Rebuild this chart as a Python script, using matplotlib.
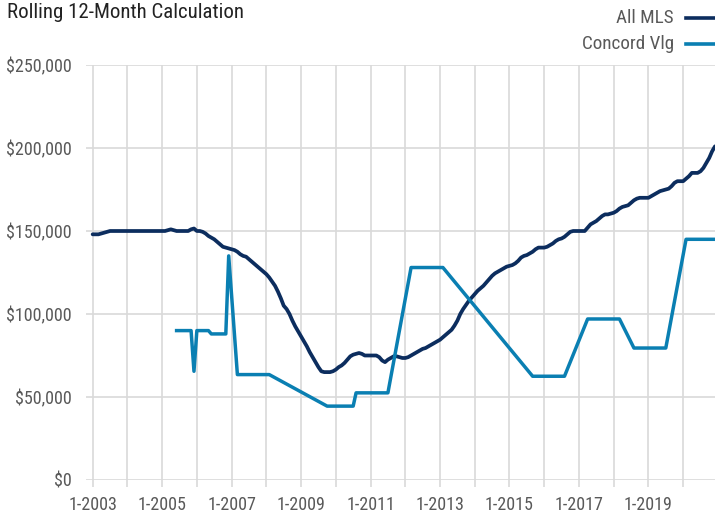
import numpy as np
import matplotlib
matplotlib.use('Agg')
import matplotlib.pyplot as plt
from matplotlib.lines import Line2D
from matplotlib.ticker import FuncFormatter
from matplotlib import font_manager

# condensed look if available, else Roboto
names = set(f.name for f in font_manager.fontManager.ttflist)
fam = [n for n in ['Roboto Condensed', 'Liberation Sans Narrow', 'Roboto'] if n in names]
plt.rcParams['font.family'] = fam + ['DejaVu Sans']

# monthly rolling 12-month values, All MLS, Jan 2003 .. Dec 2020 (in $1000)
all_mls = [
    148, 148, 148, 148.5, 149, 149.5, 150, 150, 150, 150, 150, 150,            # 2003
    150, 150, 150, 150, 150, 150, 150, 150, 150, 150, 150, 150,                # 2004
    150, 150, 150.5, 151, 150.5, 150, 150, 150, 150, 150, 151, 151.5,          # 2005
    150, 150, 149.5, 148.5, 147, 146, 145, 143.5, 142, 140.5, 140, 139.5,      # 2006
    139, 138.5, 137.5, 136, 135, 134.5, 133, 131.5, 130, 128.5, 127, 125.5,    # 2007
    124, 122, 119.5, 117, 113.5, 109.5, 105, 103, 100, 96, 92.5, 89.5,         # 2008
    86.5, 83.5, 80.5, 77, 74, 71, 68, 65.5, 65, 65, 65, 65.5,                  # 2009
    66.5, 68, 69, 70.5, 72.5, 74.5, 75.5, 76, 76.5, 76, 75, 75,                # 2010
    75, 75, 75, 74, 72, 71, 72.5, 73.5, 74.5, 74.5, 74, 73.5,                  # 2011
    73.5, 74, 75, 76, 77, 78, 79, 79.5, 80.5, 81.5, 82.5, 83.5,                # 2012
    84.5, 86, 87.5, 89, 90.5, 93, 96, 100, 103, 105.5, 108, 110,               # 2013
    112, 114, 115.5, 117, 119, 121, 123, 124.5, 125.5, 126.5, 127.5, 128.5,    # 2014
    129, 129.5, 130.5, 132, 134, 135, 135.5, 136.5, 137.5, 139, 140, 140,      # 2015
    140, 140.5, 141.5, 142.5, 144, 145, 145.5, 146.5, 148, 149.5, 150, 150,    # 2016
    150, 150, 150, 152, 154, 155, 156, 157.5, 159, 160, 160, 160.5,            # 2017
    161, 162, 163.5, 164.5, 165, 165.5, 167, 168.5, 169.5, 170, 170, 170,      # 2018
    170, 171, 172, 173, 174, 174.5, 175, 175.5, 177, 179, 180, 180,            # 2019
    180, 181.5, 183, 185, 185, 185, 186, 188, 191, 194, 198, 201,              # 2020
]

# Concord Vlg: sparse months (index from Jan 2003) and values (in $1000)
concord_month = [29, 34, 35, 36, 40, 41, 46, 47, 50, 61, 81, 90, 91, 102,
                 110, 121, 152, 163, 171, 182, 187, 198, 205, 215]
concord_val = [90, 90, 65.5, 90, 90, 88, 88, 135, 63.5, 63.5, 44.5, 44.5, 52.5, 52.5,
               128, 128, 62.5, 62.5, 97, 97, 79.5, 79.5, 145, 145]

years = list(range(2003, 2021))
tick_labels = ['1-%d' % y if (y - 2003) % 2 == 0 else '' for y in years]

navy = '#0c2d5e'
teal = '#0a7fb2'
grid_c = '#d9d9d9'
label_c = '#595959'

fig = plt.figure(figsize=(7.15, 5.15), dpi=100)
ax = fig.add_axes([86 / 715, 35 / 515, 629 / 715, 415 / 515])

months = np.arange(len(all_mls))
ax.plot(months, np.array(all_mls) * 1000, color=navy, lw=2.7, solid_capstyle='round', zorder=3)
ax.plot(concord_month, np.array(concord_val) * 1000, color=teal, lw=2.5, zorder=3)

ax.set_xlim(-2.3, 215)
ax.set_ylim(0, 250000)
ax.set_yticks(np.arange(0, 250001, 50000))
ax.yaxis.set_major_formatter(FuncFormatter(lambda v, p: '${:,.0f}'.format(v)))
ax.set_xticks([(y - 2003) * 12 for y in years])
ax.set_xticklabels(tick_labels)

ax.grid(True, color=grid_c, lw=1.2, zorder=0)
for s in ax.spines.values():
    s.set_visible(False)
ax.tick_params(axis='x', length=5, width=1.2, color=grid_c, pad=6.5, labelsize=13, labelcolor=label_c)
ax.tick_params(axis='y', length=0, pad=10, labelsize=13, labelcolor=label_c)

fig.text(7 / 715, 1 - 13 / 515, 'Rolling 12-Month Calculation', fontsize=15, color='#222222',
         ha='left', va='center')

# legend at top right
for i, (name, col) in enumerate([('All MLS', navy), ('Concord Vlg', teal)]):
    yy = 1 - (18 + 26 * i) / 515
    fig.text(674 / 715, yy, name, fontsize=13.8, color=label_c, ha='right', va='center')
    fig.add_artist(Line2D([686 / 715, 1.0], [yy, yy], color=col, lw=2.6, transform=fig.transFigure))

fig.savefig('out.png', dpi=100)
